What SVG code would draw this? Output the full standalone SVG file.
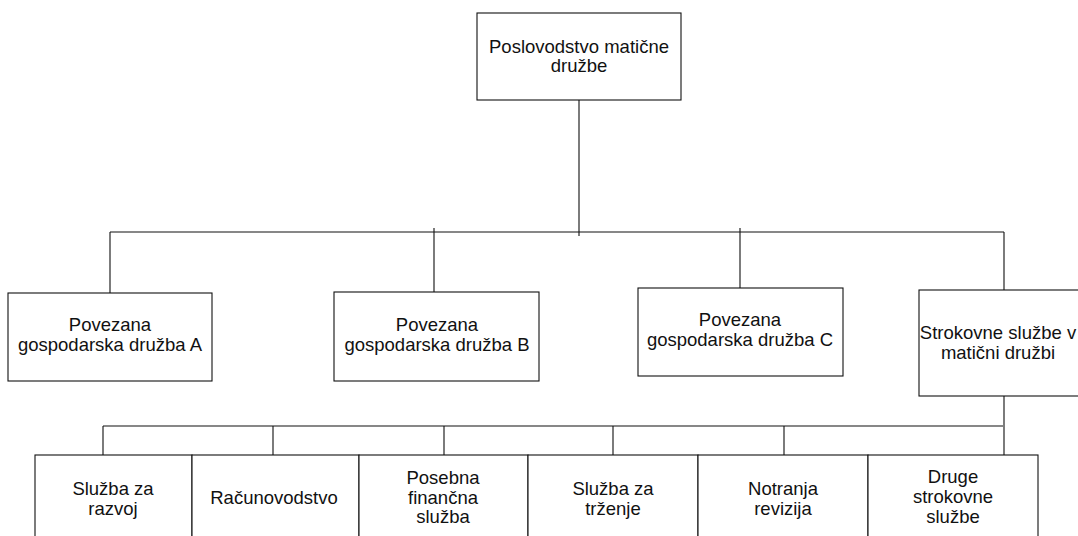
<svg xmlns="http://www.w3.org/2000/svg" width="1078" height="536" viewBox="0 0 1078 536">
<style>
.box{fill:#fff;stroke:#111;stroke-width:1.1}
.ln{stroke:#111;stroke-width:1.1;fill:none}
text{font-family:"Liberation Sans",Arial,sans-serif;font-size:18.5px;fill:#111;text-anchor:middle}
</style>
<rect width="1078" height="536" fill="#fff"/>
<g id="connectors">
<path class="ln" d="M579,100 V236 M110,232 H1004 M110,232 V293 M434,228 V292 M740,228 V288 M1004,232 V290"/>
<path class="ln" d="M103,426 H1003 M103,426 V455 M273,426 V455 M444,426 V455 M613,426 V455 M784,426 V455 M1004,396 V455"/>
</g>
<g id="top">
<rect class="box" x="477" y="13" width="204" height="87"/>
<text x="579" y="53">Poslovodstvo matične</text>
<text x="579" y="72">družbe</text>
</g>
<g id="nodeA">
<rect class="box" x="8" y="293" width="204" height="88"/>
<text x="110" y="331">Povezana</text>
<text x="110" y="351">gospodarska družba A</text>
</g>
<g id="nodeB">
<rect class="box" x="334" y="292" width="205" height="89"/>
<text x="437" y="331">Povezana</text>
<text x="437" y="351">gospodarska družba B</text>
</g>
<g id="nodeC">
<rect class="box" x="638" y="288" width="205" height="88"/>
<text x="740" y="326">Povezana</text>
<text x="740" y="346">gospodarska družba C</text>
</g>
<g id="nodeD">
<rect class="box" x="919" y="290" width="170" height="106"/>
<text x="998" y="339">Strokovne službe v</text>
<text x="998" y="359">matični družbi</text>
</g>
<g id="s1">
<rect class="box" x="35" y="455" width="157" height="90"/>
<text x="113" y="495">Služba za</text>
<text x="113" y="515">razvoj</text>
</g>
<g id="s2">
<rect class="box" x="192" y="455" width="167" height="90"/>
<text x="274" y="504">Računovodstvo</text>
</g>
<g id="s3">
<rect class="box" x="359" y="455" width="169" height="90"/>
<text x="443" y="484">Posebna</text>
<text x="443" y="504">finančna</text>
<text x="443" y="523">služba</text>
</g>
<g id="s4">
<rect class="box" x="528" y="455" width="170" height="90"/>
<text x="613" y="495">Služba za</text>
<text x="613" y="515">trženje</text>
</g>
<g id="s5">
<rect class="box" x="698" y="455" width="170" height="90"/>
<text x="783" y="495">Notranja</text>
<text x="783" y="515">revizija</text>
</g>
<g id="s6">
<rect class="box" x="868" y="455" width="170" height="90"/>
<text x="953" y="483">Druge</text>
<text x="953" y="503">strokovne</text>
<text x="953" y="523">službe</text>
</g>
</svg>
